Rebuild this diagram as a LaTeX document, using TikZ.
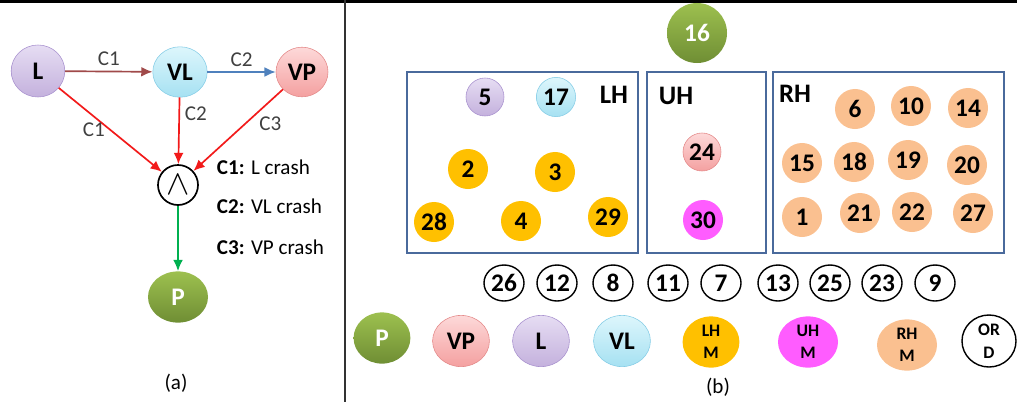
\documentclass[tikz,border=0pt]{standalone}
\usepackage{fontspec}
\setmainfont{Carlito}
\usetikzlibrary{arrows.meta,positioning,shapes.geometric}
\definecolor{lavtop}{HTML}{E6DDF3}
\definecolor{lavbot}{HTML}{C4B1DD}
\definecolor{lavline}{HTML}{A992CF}
\definecolor{skytop}{HTML}{DDF6FC}
\definecolor{skybot}{HTML}{A6E1F2}
\definecolor{skyline}{HTML}{86CDE6}
\definecolor{pinktop}{HTML}{FDD9D9}
\definecolor{pinkbot}{HTML}{F4A0A0}
\definecolor{pinkline}{HTML}{E48A8A}
\definecolor{greentop}{HTML}{9DC04F}
\definecolor{greenbot}{HTML}{6F8E34}
\definecolor{amber}{HTML}{FFC000}
\definecolor{peach}{HTML}{FAC090}
\definecolor{magent}{HTML}{FF5CFF}
\definecolor{boxblue}{HTML}{4A6A9C}
\definecolor{arrbrown}{HTML}{A04A4A}
\definecolor{arrblue}{HTML}{4F81BD}
\definecolor{arrred}{HTML}{F21A1A}
\definecolor{arrgreen}{HTML}{00B050}
\newcommand{\crnum}{\fontsize{18}{20}\selectfont\bfseries}
\newcommand{\crhead}{\fontsize{19}{21}\selectfont\bfseries}
\newcommand{\crsmall}{\fontsize{15}{17}\selectfont}
\newcommand{\crtiny}{\fontsize{12.5}{16}\selectfont\bfseries}
\tikzset{
  ball/.style={circle,inner sep=0pt,minimum size=1cm,font=\crnum},
  ordball/.style={ellipse,draw=black,line width=1pt,inner sep=0pt,
    minimum width=1cm,minimum height=0.9cm,font=\crnum},
  keyball/.style={ellipse,inner sep=0pt,minimum width=1.42cm,
    minimum height=1.28cm,font=\crnum},
  lav/.style={top color=lavtop,bottom color=lavbot,draw=lavline},
  sky/.style={top color=skytop,bottom color=skybot,draw=skyline},
  pnk/.style={top color=pinktop,bottom color=pinkbot,draw=pinkline},
  grn/.style={top color=greentop,bottom color=greenbot,text=white},
  hbox/.style={draw=boxblue,line width=1.2pt},
  conn/.style={->,line width=1.2pt},
  edgelab/.style={font=\crsmall,text=black!75},
}

\begin{document}
\begin{tikzpicture}[>={Latex[length=8pt,width=7pt]},x=0.025cm,y=-0.025cm]
  \useasboundingbox (0,0) rectangle (1017,402);
  \fill[black] (0,0) rectangle (1017,3);
  \draw[line width=2pt,black!80] (345,0) -- (345,402);

  % (a) crash graph
  \node[keyball,lav,minimum width=1.34cm,minimum height=1.3cm] (L) at (38,71) {L};
  \node[keyball,sky,minimum width=1.36cm,minimum height=1.26cm] (VL) at (180,72) {VL};
  \node[keyball,pnk,minimum width=1.3cm,minimum height=1.24cm] (VP) at (302,72) {VP};
  \node[circle,draw=black,line width=1.2pt,minimum size=1cm,inner sep=0pt,
    font=\fontsize{27}{27}\selectfont] (and) at (178,185) {$\wedge$};
  \node[keyball,grn,minimum width=1.5cm] (P) at (178,297) {P};

  \draw[conn,arrbrown] (L) -- node[above,edgelab] {C1} (VL);
  \draw[conn,arrblue] (VL) -- node[above,edgelab] {C2} (VP);
  \draw[conn,arrred] (L) -- node[left,edgelab] {C1} (and);
  \draw[conn,arrred] (VL) -- node[pos=0.25,right,edgelab] {C2} (and);
  \draw[conn,arrred] (VP) -- node[pos=0.42,right=6pt,edgelab] {C3} (and);
  \draw[conn,arrgreen] (and) -- (P);

  \node[anchor=west,font=\crsmall] (c1) at (212,167) {\textbf{C1:} L crash};
  \node[anchor=west,font=\crsmall] (c2) at (212,206) {\textbf{C2:} VL crash};
  \node[anchor=west,font=\crsmall] (c3) at (212,247) {\textbf{C3:} VP crash};
  \node[font=\crsmall] (capa) at (176,383) {(a)};

  % (b) placement
  \node[ball,grn,minimum size=1.5cm] (n16) at (697,33) {16};

  \draw[hbox] (407,72) rectangle (638,253);
  \draw[hbox] (647,72) rectangle (766,253);
  \draw[hbox] (773,72) rectangle (1004,253);
  \node[font=\crhead] (lh) at (614,95) {LH};
  \node[font=\crhead] (uh) at (676,96) {UH};
  \node[font=\crhead] (rh) at (795,94) {RH};

  \node[ball,lav,minimum size=0.95cm] (n5) at (485,97) {5};
  \node[ball,sky,minimum size=0.98cm] (n17) at (556,97) {17};
  \foreach \x/\y/\v in {468/169/2,555/172/3,434/222/28,521/221/4,608/217/29}
    \node[ball,fill=amber] (n\v) at (\x,\y) {\v};

  \node[ball,pnk,minimum size=0.95cm] (n24) at (702,152) {24};
  \node[ball,fill=magent] (n30) at (703,220) {30};

  \foreach \x/\y/\v in {855/109/6,911/106/10,968/108/14,802/163/15,854/162/18,
      908/160/19,967/165/20,802/217/1,860/213/21,912/212/22,973/213/27}
    \node[ball,fill=peach] (n\v) at (\x,\y) {\v};

  \foreach \x/\v in {504/26,557/12,613/8,668/11,721/7,778/13,830/25,882/23,935/9}
    \node[ordball] (n\v) at (\x,283) {\v};

  % key
  \node[keyball,grn] (kP) at (382,338) {P};
  \node[keyball,pnk] (kVP) at (461,341) {VP};
  \node[keyball,lav] (kL) at (541,341) {L};
  \node[keyball,sky] (kVL) at (622,341) {VL};
  \node[keyball,fill=amber,font=\crtiny,align=center] (kLHM) at (711,342) {LH\\M};
  \node[keyball,fill=magent,font=\crtiny,align=center,minimum width=1.5cm] (kUHM) at (808,342) {UH\\M};
  \node[keyball,fill=peach,font=\crtiny,align=center,minimum width=1.5cm] (kRHM) at (907,345) {RH\\M};
  \node[keyball,draw=black,line width=1pt,font=\crtiny,align=center,
    minimum width=1.35cm,minimum height=1.3cm] (kORD) at (989,341) {OR\\D};
  \node[font=\crsmall] (capb) at (718,387) {(b)};
\end{tikzpicture}
\end{document}
